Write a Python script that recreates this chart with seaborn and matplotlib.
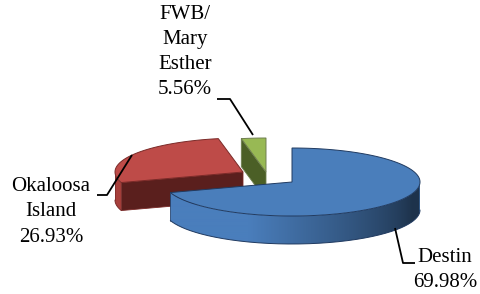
import numpy as np
import matplotlib
matplotlib.use("Agg")
import matplotlib.pyplot as plt
from matplotlib.patches import Polygon
import seaborn as sns

# ---- data ----
categories = ["Destin", "Okaloosa\nIsland", "FWB/\nMary\nEsther"]
label_pct = [69.98, 26.93, 5.56]          # percentages printed in the labels
slice_share = [69.98, 26.93, 3.09]        # slice sizes as drawn (percent of the circle)

sns.set_style("white")
plt.rcParams['font.family'] = ['Liberation Serif', 'DejaVu Serif']

# ---- layout / style ----
W, Hgt = 480, 294
RX, RY, DEPTH = 128, 34, 28
vertices = [(292, 182), (243, 172), (266, 172)]
top_colors = ["#4a7ebb", "#be4b48", "#98b954"]
top_edges = ["#203a60", "#7a2a28", "#6f7f50"]
wall_colors = [(74, 126, 188), (176, 68, 64), (120, 150, 70)]
cut_colors = ["#1f3550", "#5a1f1d", "#4b5f26"]
label_pos = [(445, 270), (51, 212), (185, 52)]
leaders = [
    [(395, 228), (403, 263), (415, 263)],
    [(132, 155), (107, 195), (97, 195)],
    [(253, 135), (230, 99), (217, 99)],
]

fig = plt.figure(figsize=(W / 100, Hgt / 100), dpi=100)
ax = fig.add_axes([0, 0, 1, 1])
ax.set_xlim(0, W)
ax.set_ylim(Hgt, 0)
ax.axis('off')


def top_pt(v, t):
    r = np.radians(t)
    return (v[0] + RX * np.cos(r), v[1] - RY * np.sin(r))


def shade(t):
    tt = t % 360
    return 1.0 - 0.6 * np.clip((tt - 250) / 90.0, 0, 1)


# angles: start at 12 o'clock, go clockwise
total = 100.0
ranges = []
a_hi = 90.0
for s in slice_share:
    span = s / total * 360.0
    ranges.append((a_hi - span, a_hi))
    a_hi -= span

draw_order = [2, 1, 0]
for k, i in enumerate(draw_order):
    v = vertices[i]
    lo, hi = ranges[i]
    z0 = 1 + k * 3
    ts = np.linspace(lo, hi, int(abs(hi - lo) * 4) + 2)
    front = [t for t in ts if np.sin(np.radians(t)) <= 0.0005]
    if len(front) > 1:
        tops = np.array([top_pt(v, t) for t in front])
        bots = tops + np.array([0, DEPTH])
        wall = np.vstack([tops, bots[::-1]])
        wp = Polygon(wall, closed=True, facecolor='none', edgecolor='none')
        ax.add_patch(wp)
        # horizontal gradient across the wall
        xs = np.linspace(v[0] - RX, v[0] + RX, 512)
        tt = 360 - np.degrees(np.arccos(np.clip((xs - v[0]) / RX, -1, 1)))
        if i == 0:
            f = shade(tt)
        else:
            f = np.full_like(tt, 0.95)
        rgb = np.clip(np.array(wall_colors[i])[None, :] * f[:, None] / 255.0, 0, 1)
        img = rgb[None, :, :]
        ymin, ymax = wall[:, 1].min(), wall[:, 1].max()
        im = ax.imshow(img, extent=(v[0] - RX, v[0] + RX, ymax, ymin),
                       aspect='auto', zorder=z0, interpolation='bilinear')
        im.set_clip_path(wp)
        ax.plot(bots[:, 0], bots[:, 1], color=top_edges[i], lw=0.7, zorder=z0 + 0.5)
        ax.plot([tops[0, 0], bots[0, 0]], [tops[0, 1], bots[0, 1]],
                color=top_edges[i], lw=0.5, zorder=z0 + 0.5)
    # radial cut faces
    for ang, vis in ((lo, np.cos(np.radians(lo)) > 0.01),
                     (hi, np.cos(np.radians(hi)) < -0.01)):
        if vis:
            e = top_pt(v, ang)
            poly = [v, e, (e[0], e[1] + DEPTH), (v[0], v[1] + DEPTH)]
            ax.add_patch(Polygon(poly, closed=True, facecolor=cut_colors[i],
                                 edgecolor=top_edges[i], linewidth=0.6,
                                 zorder=z0 + 0.6))
    # top face
    ts2 = np.linspace(lo, hi, 200)
    poly = [v] + [top_pt(v, t) for t in ts2]
    ax.add_patch(Polygon(poly, closed=True, facecolor=top_colors[i],
                         edgecolor=top_edges[i], linewidth=0.7,
                         zorder=z0 + 1))

# labels and leader lines
for i in range(len(categories)):
    txt = f"{categories[i]}\n{label_pct[i]:.2f}%"
    ax.text(label_pos[i][0], label_pos[i][1], txt, ha='center', va='center',
            multialignment='center', fontsize=15, linespacing=1.45,
            color='black', zorder=20)
    lx, ly = zip(*leaders[i])
    ax.plot(lx, ly, color='black', lw=1.3, zorder=21, solid_capstyle='butt')

fig.savefig("out.png", dpi=100)
